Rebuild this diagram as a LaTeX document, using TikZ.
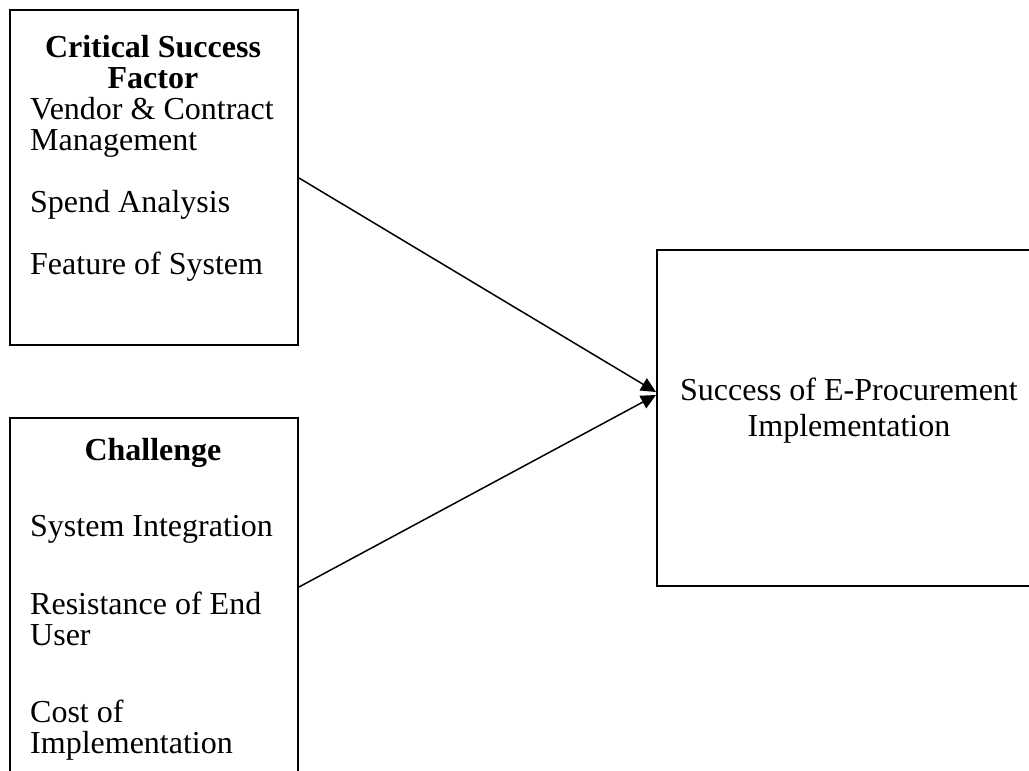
\documentclass[tikz,border=0pt]{standalone}
\usepackage{fontspec}
\setmainfont{Liberation Serif}
\usetikzlibrary{arrows.meta}
\tikzset{
  boxnode/.style={draw=black, line width=2pt, rectangle, inner sep=0pt, anchor=north west},
  txt/.style={inner sep=0pt},
  head/.style={txt, align=center},
  body/.style={txt, align=left},
  arr/.style={line width=1.5pt, -{Triangle[length=15pt,width=14pt]}}
}
\newcommand{\fs}[1]{\fontsize{32}{#1}\selectfont}
\begin{document}
\begin{tikzpicture}[x=1pt,y=-1pt]
\useasboundingbox (0,0) rectangle (1029,771);
\clip (0,0) rectangle (1029,771);
\node[boxnode, minimum width=288pt, minimum height=335pt] (csf) at (9,9) {};
\node[boxnode, minimum width=288pt, minimum height=370pt] (ch) at (9,417) {};
\node[boxnode, minimum width=400pt, minimum height=336pt] (succ) at (656,249) {};
% top box texts
\node[head, anchor=north, font=\fs{31}\bfseries] (h1) at (153,35) {Critical Success\\Factor};
\node[body, anchor=north west, font=\fs{31}] (t1) at (30,97) {Vendor \& Contract\\Management};
\node[body, anchor=base west, font=\fs{31}] (t3) at (30,212) {Spend Analysis};
\node[body, anchor=base west, font=\fs{31}] (t4) at (30,274) {Feature of System};
% bottom box texts
\node[head, anchor=base, font=\fs{31}\bfseries] (h3) at (153,460) {Challenge};
\node[body, anchor=base west, font=\fs{31}] (b1) at (30,536) {System Integration};
\node[body, anchor=north west, font=\fs{31}] (b2) at (30,592) {Resistance of End\\User};
\node[body, anchor=north west, font=\fs{31}] (b4) at (30,700) {Cost of\\Implementation};
% right box text
\node[head, anchor=north, font=\fs{36}] (s1) at (849,378) {Success of E-Procurement\\Implementation};
% connectors
\draw[arr] ([yshift=-169pt]csf.north east) -- ([yshift=-143pt]succ.north west);
\draw[arr] ([yshift=-170pt]ch.north east) -- ([yshift=-146pt]succ.north west);
\end{tikzpicture}
\end{document}
